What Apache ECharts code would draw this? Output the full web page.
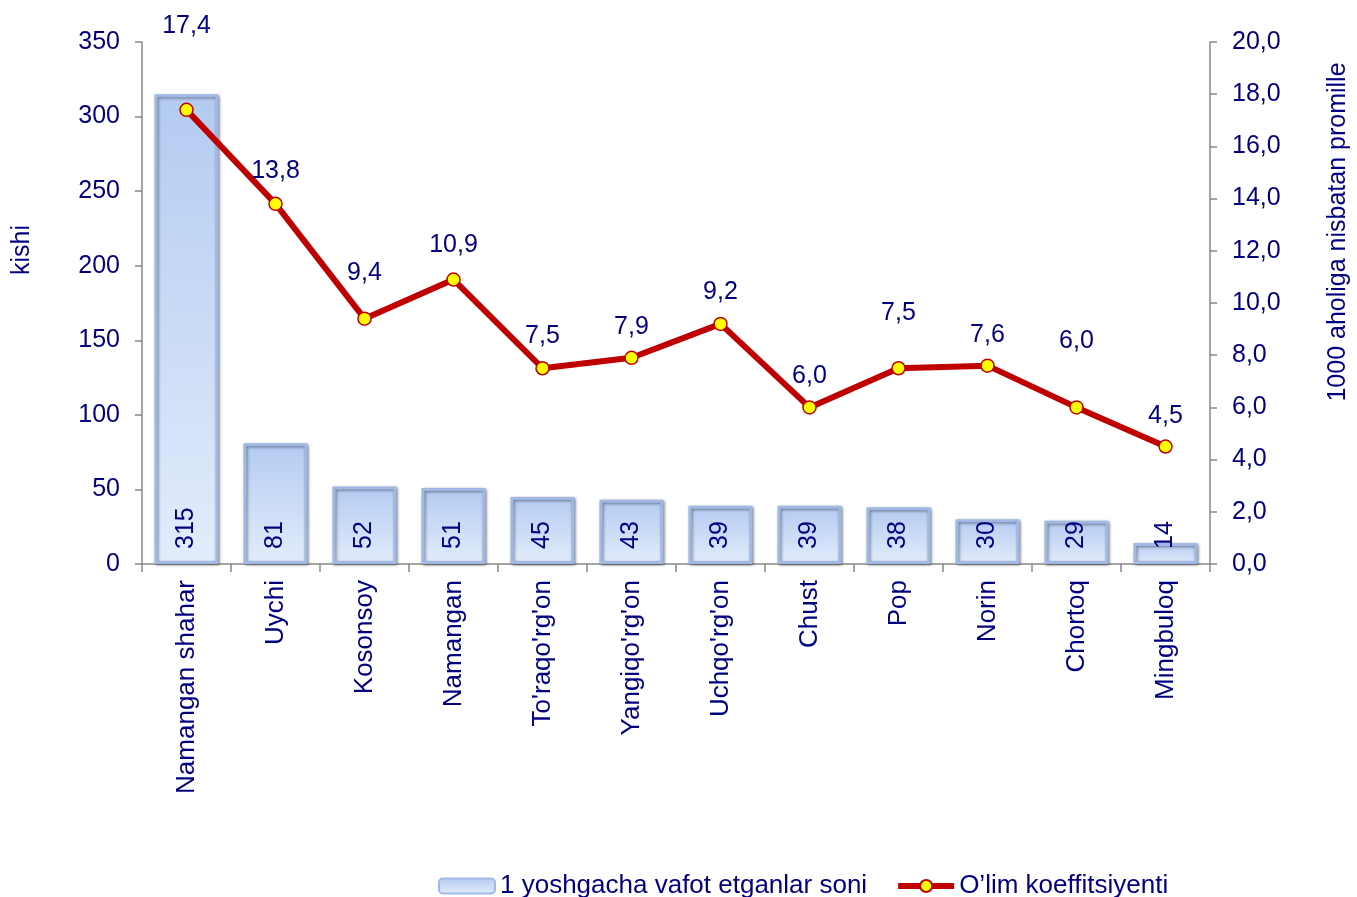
<!DOCTYPE html>
<html lang="en">
<head>
  <meta charset="UTF-8">
  <title>Chart</title>
  <style>
    html, body { margin: 0; width: 100%; height: 100%; background: #fff; }
    #chart { width: 1357px; height: 897px; }
  </style>
</head>
<body>
  <div id="chart"></div>
  <script src="https://cdn.jsdelivr.net/npm/echarts@6/dist/echarts.min.js"></script>
  <script>
    // tumanlar
    var categories = ['Namangan shahar', 'Uychi', 'Kosonsoy', 'Namangan', "To'raqo'rg'on",
      "Yangiqo'rg'on", "Uchqo'rg'on", 'Chust', 'Pop', 'Norin', 'Chortoq', 'Mingbuloq'];
    // 1 yoshgacha vafot etganlar soni
    var deaths = [315, 81, 52, 51, 45, 43, 39, 39, 38, 30, 29, 14];
    // o'lim koeffitsiyenti (promille)
    var rate = [17.4, 13.8, 9.4, 10.9, 7.5, 7.9, 9.2, 6.0, 7.5, 7.6, 6.0, 4.5];
    var leftTicks = [0, 350, 50];
    var rightTicks = [0, 20, 2];

    // extra lift of the line labels, like in the original
    var labelLift = [53, 2, 15, 4, 1, 0, 1, 1, 24, 0, 36, 0];

    var navy = '#000080';
    var font = 'Liberation Sans, Arial, sans-serif';
    var fs = 25;   // ticks, data labels
    var fsBig = 26; // categories, legend

    function comma(v) { return Number(v).toFixed(1).replace('.', ','); }

    var chart = echarts.init(document.getElementById('chart'));

    var barStyle = {
      color: new echarts.graphic.LinearGradient(0, 0, 0, 1, [
        { offset: 0, color: '#b3cbf1' },
        { offset: 1, color: '#e3ecfb' }
      ]),
      borderColor: '#9fb9e4',
      borderWidth: 3,
      shadowColor: 'rgba(0,0,0,0.45)',
      shadowBlur: 3,
      shadowOffsetX: 1,
      shadowOffsetY: 1
    };

    var option = {
      animation: false,
      textStyle: { fontFamily: font },
      grid: { left: 142, right: 147, top: 42, bottom: 333 },
      legend: {
        left: 433,
        top: 868,
        itemWidth: 56,
        itemHeight: 15,
        itemGap: 28,
        textStyle: { color: navy, fontSize: fsBig, fontFamily: font },
        data: [
          { name: '1 yoshgacha vafot etganlar soni' },
          { name: 'O\u2019lim koeffitsiyenti', lineStyle: { width: 6, color: '#c00000' } }
        ]
      },
      xAxis: {
        type: 'category',
        data: categories,
        axisLine: { lineStyle: { color: '#888', width: 1.5 } },
        axisTick: { show: true, length: 8, lineStyle: { color: '#888', width: 1.5 } },
        axisLabel: { rotate: 90, color: navy, fontSize: fsBig, margin: 16, interval: 0 }
      },
      yAxis: [{
        type: 'value',
        min: leftTicks[0], max: leftTicks[1], interval: leftTicks[2],
        splitLine: { show: false },
        axisLine: { show: true, lineStyle: { color: '#888', width: 1.5 } },
        axisTick: { show: true, length: 7, lineStyle: { color: '#888', width: 1.5 } },
        axisLabel: { color: navy, fontSize: fs, margin: 22 }
      }, {
        type: 'value',
        position: 'right',
        min: rightTicks[0], max: rightTicks[1], interval: rightTicks[2],
        splitLine: { show: false },
        axisLine: { show: true, lineStyle: { color: '#888', width: 1.5 } },
        axisTick: { show: true, length: 7, lineStyle: { color: '#888', width: 1.5 } },
        axisLabel: { color: navy, fontSize: fs, margin: 22, formatter: comma }
      }],
      graphic: [{
        type: 'text', x: 22, y: 250, rotation: Math.PI / 2,
        style: { text: 'kishi', fill: navy, font: fs + 'px ' + font, textAlign: 'center', textVerticalAlign: 'middle' }
      }, {
        type: 'text', x: 1338, y: 232, rotation: Math.PI / 2,
        style: { text: '1000 aholiga nisbatan promille', fill: navy, font: fs + 'px ' + font, textAlign: 'center', textVerticalAlign: 'middle' }
      }],
      series: [{
        name: '1 yoshgacha vafot etganlar soni',
        type: 'bar',
        yAxisIndex: 0,
        barWidth: 64,
        data: deaths,
        itemStyle: barStyle,
        label: {
          show: true,
          position: 'insideBottom',
          distance: 15,
          rotate: 90,
          align: 'left',
          verticalAlign: 'middle',
          color: navy,
          fontSize: fs
        }
      }, {
        name: 'O\u2019lim koeffitsiyenti',
        type: 'line',
        yAxisIndex: 1,
        data: rate.map(function (v, i) {
          return { value: v, label: { offset: [0, -labelLift[i]] } };
        }),
        symbol: 'circle',
        symbolSize: 13,
        lineStyle: { color: '#c00000', width: 6 },
        itemStyle: { color: '#ffff00', borderColor: '#c00000', borderWidth: 1.5 },
        label: {
          show: true,
          position: 'top',
          distance: 11,
          color: navy,
          fontSize: fs,
          formatter: function (p) { return comma(p.value); }
        },
        z: 5
      }]
    };

    chart.setOption(option);
  </script>
</body>
</html>
